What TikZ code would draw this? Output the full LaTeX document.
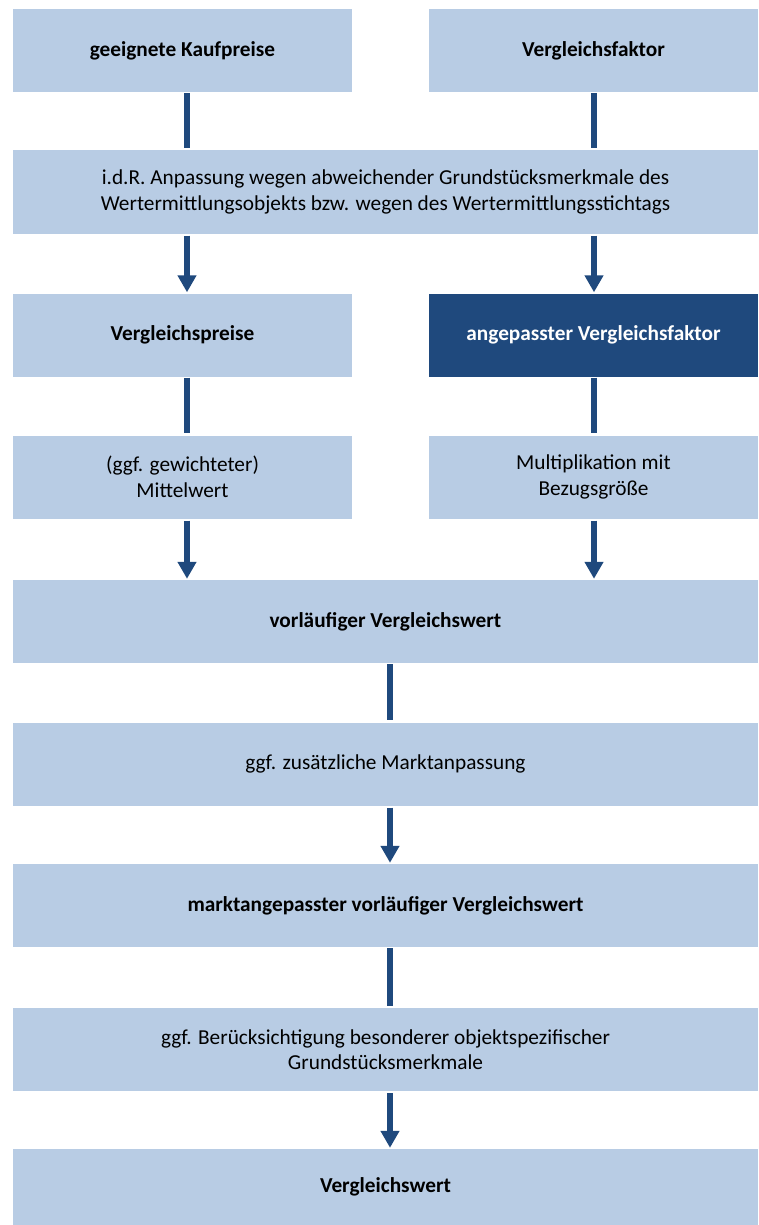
\documentclass[tikz,border=0pt]{standalone}
\usepackage{fontspec}
\setmainfont{Carlito}
\usetikzlibrary{arrows.meta,calc}
\definecolor{boxlight}{HTML}{B8CCE4}
\definecolor{boxdark}{HTML}{1F497D}
\begin{document}
\begin{tikzpicture}[x=1pt,y=-1pt,
  box/.style={fill=boxlight, draw=none, inner sep=0pt, align=center, text=black,
    font=\fontsize{21.3}{25.5}\selectfont, minimum height=83pt},
  narrowL/.style={box, minimum width=339pt},
  narrowR/.style={box, minimum width=329pt},
  wide/.style={box, minimum width=745pt},
  darkbox/.style={fill=boxdark, text=white},
  link/.style={draw=boxdark, line width=6pt, shorten <=1pt, shorten >=2pt},
  flow/.style={draw=boxdark, line width=6pt, shorten <=2pt, shorten >=1pt,
    -{Triangle[width=18pt,length=17pt]}}]
\useasboundingbox (0,0) rectangle (758,1225);
\fill[white] (0,0) rectangle (758,1225);
\coordinate (cL) at (187,0);
\coordinate (cR) at (594,0);
\coordinate (cM) at (390,0);

\node[narrowL] (b1) at (182.5,50.5) {\raisebox{-2pt}{\bfseries geeignete Kaufpreise}};
\node[narrowR] (b2) at (593.5,50.5) {\raisebox{-2pt}{\bfseries Vergleichsfaktor}};
\node[wide] (b3) at (385.5,192) {i.d.R. Anpassung wegen abweichender Grundstücksmerkmale des\\Wertermittlungsobjekts bzw. wegen des Wertermittlungsstichtags};
\node[narrowL] (b4) at (182.5,335) {\raisebox{-2pt}{\bfseries Vergleichspreise}};
\node[narrowR,darkbox] (b5) at (593.5,335) {\raisebox{-2pt}{\bfseries angepasster Vergleichsfaktor}};
\node[narrowL] (b6) at (182.5,477) {(ggf. gewichteter)\\Mittelwert};
\node[narrowR] (b7) at (593.5,477) {Multiplikation mit\\Bezugsgröße};
\node[wide] (b8) at (385.5,621.5) {\raisebox{-2pt}{\bfseries vorläufiger Vergleichswert}};
\node[wide] (b9) at (385.5,764) {\raisebox{-2pt}{ggf. zusätzliche Marktanpassung}};
\node[wide] (b10) at (385.5,905.5) {\raisebox{-2pt}{\bfseries marktangepasster vorläufiger Vergleichswert}};
\node[wide] (b11) at (385.5,1049.5) {ggf. Berücksichtigung besonderer objektspezifischer\\Grundstücksmerkmale};
\node[wide, minimum height=76pt] (b12) at (385.5,1187) {\raisebox{-5pt}{\bfseries Vergleichswert}};

\draw[link] (b1.south -| cL) -- (b3.north -| cL);
\draw[link] (b2.south -| cR) -- (b3.north -| cR);
\draw[flow] (b3.south -| cL) -- (b4.north -| cL);
\draw[flow] (b3.south -| cR) -- (b5.north -| cR);
\draw[link] (b4.south -| cL) -- (b6.north -| cL);
\draw[link] (b5.south -| cR) -- (b7.north -| cR);
\draw[flow] (b6.south -| cL) -- (b8.north -| cL);
\draw[flow] (b7.south -| cR) -- (b8.north -| cR);
\draw[link] (b8.south -| cM) -- (b9.north -| cM);
\draw[flow] (b9.south -| cM) -- (b10.north -| cM);
\draw[link] (b10.south -| cM) -- (b11.north -| cM);
\draw[flow] (b11.south -| cM) -- (b12.north -| cM);
\end{tikzpicture}
\end{document}
